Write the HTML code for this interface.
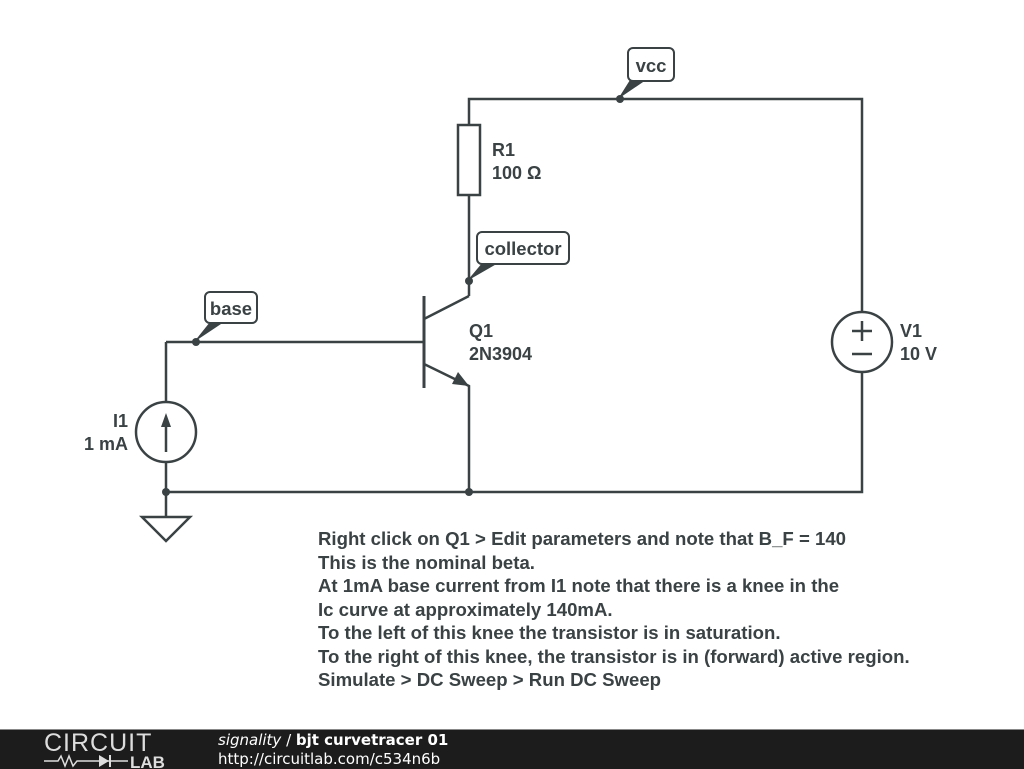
<!DOCTYPE html>
<html><head><meta charset="utf-8"><style>
html,body{margin:0;padding:0;background:#fff;}
body{width:1024px;height:768px;position:relative;overflow:hidden;font-family:"Liberation Sans",sans-serif;}
.t{position:absolute;color:#3a4244;font-weight:bold;font-size:18px;line-height:23px;}
#foot{position:absolute;left:0;top:729px;width:1024px;height:39px;background:#1c1c1c;border-top:1px solid #888;}
</style></head><body>
<svg width="1024" height="768" style="position:absolute;left:0;top:0" xmlns="http://www.w3.org/2000/svg">
<g stroke="#3a4244" stroke-width="2.5" fill="none">
<polyline points="469,125 469,99 862,99 862,312"/>
<polyline points="862,372 862,492 166,492"/>
<line x1="166" y1="342" x2="423" y2="342"/>
<line x1="166" y1="342" x2="166" y2="402"/>
<line x1="166" y1="462" x2="166" y2="517"/>
<polygon points="142,517 190,517 166,541"/>
<rect x="458" y="125" width="22" height="70" fill="#fff"/>
<line x1="469" y1="195" x2="469" y2="296"/>
<line x1="424" y1="296" x2="424" y2="388" stroke-width="3"/>
<polyline points="424,319 469,296"/>
<polyline points="424,364 465,384 469,386 469,492"/>
<circle cx="166" cy="432" r="30"/>
<line x1="166" y1="452" x2="166" y2="420"/>
<circle cx="862" cy="342" r="30"/>
<line x1="852" y1="331" x2="872" y2="331"/><line x1="862" y1="321" x2="862" y2="341"/>
<line x1="852" y1="354" x2="872" y2="354"/>
</g>
<g fill="#3a4244">
<polygon points="166,413 161,427 171,427"/>
<polygon points="469,386 452,384 458,372"/>
<circle cx="620" cy="99" r="4"/><circle cx="469" cy="281" r="4"/><circle cx="196" cy="342" r="4"/>
<circle cx="166" cy="492" r="4"/><circle cx="469" cy="492" r="4"/>
<polygon points="618,99 630,80 646,80"/>
<polygon points="467,281 483,262 500,262"/>
<polygon points="194,342 210,322 224,322"/>
</g>
<g stroke="#3a4244" stroke-width="2" fill="#fff">
<rect x="628" y="48" width="46" height="33" rx="5"/>
<rect x="477" y="232" width="92" height="32" rx="5"/>
<rect x="205" y="292" width="52" height="31" rx="5"/>
</g>
<g fill="#3a4244" font-family="Liberation Sans,sans-serif" font-weight="bold" font-size="18.5">
<text x="651" y="72" text-anchor="middle">vcc</text>
<text x="523" y="255" text-anchor="middle">collector</text>
<text x="231" y="315" text-anchor="middle">base</text>
</g>
</svg>
<div class="t" style="left:492px;top:139px">R1<br>100 Ω</div>
<div class="t" style="left:469px;top:320px">Q1<br>2N3904</div>
<div class="t" style="left:900px;top:320px">V1<br>10 V</div>
<div class="t" style="left:70px;top:410px;text-align:right;width:58px">I1<br>1 mA</div>
<div class="t" style="left:318px;top:527px;line-height:23.5px;font-size:18.6px">Right click on Q1 &gt; Edit parameters and note that B_F = 140<br>This is the nominal beta.<br>At 1mA base current from I1 note that there is a knee in the<br>Ic curve at approximately 140mA.<br>To the left of this knee the transistor is in saturation.<br>To the right of this knee, the transistor is in (forward) active region.<br>Simulate &gt; DC Sweep &gt; Run DC Sweep</div>
<div id="foot">
<div style="position:absolute;left:44px;top:0px;color:#ddd;font-size:25px;letter-spacing:1px;font-family:'Liberation Sans',sans-serif;line-height:26px">CIRCUIT</div>
<svg style="position:absolute;left:44px;top:24px" width="130" height="15"><g stroke="#ddd" stroke-width="1.5" fill="none"><polyline points="0,7 14,7 17,2 21,12 25,2 29,12 33,7 48,7"/><line x1="48" y1="7" x2="84" y2="7"/></g><polygon points="55,1 55,13 65,7" fill="#ddd"/><line x1="66" y1="1" x2="66" y2="13" stroke="#ddd" stroke-width="2"/><text x="86" y="14" fill="#ddd" font-family="Liberation Sans" font-weight="bold" font-size="17">LAB</text></svg>
<div style="position:absolute;left:218px;top:1px;color:#fff;font-size:15px;line-height:19px;font-family:'DejaVu Sans',sans-serif"><i>signality</i> / <b>bjt curvetracer 01</b><br>http://circuitlab.com/c534n6b</div>
</div>
</body></html>
